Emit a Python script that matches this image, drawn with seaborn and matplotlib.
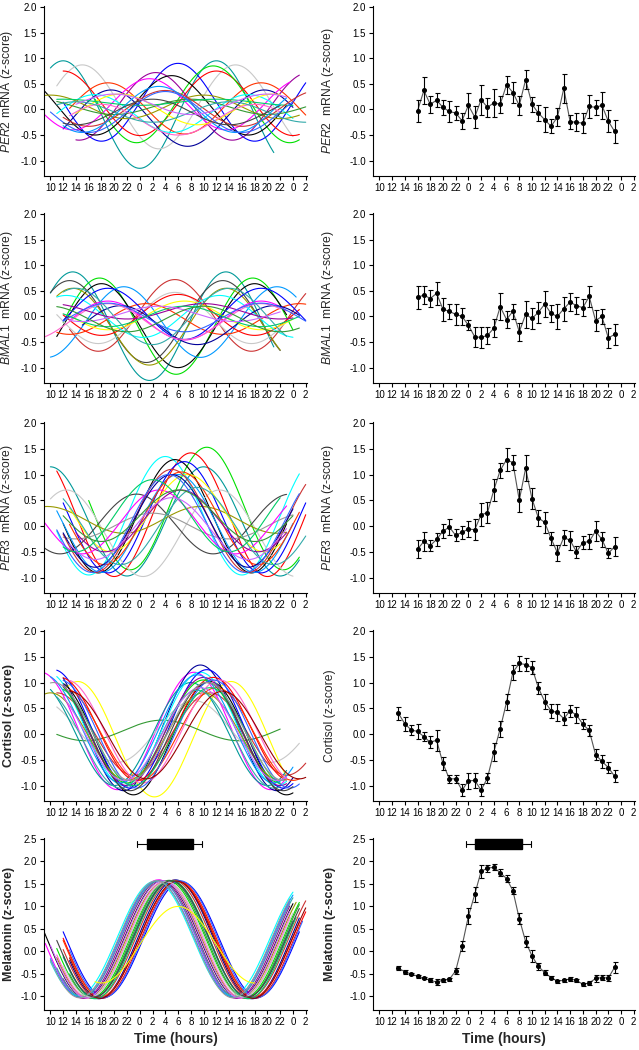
import numpy as np
import pandas as pd
import seaborn as sns
import matplotlib.pyplot as plt
from matplotlib.patches import Rectangle

# colours used for individual participant curves
C = {
	"red": "#FF0000", "blue": "#0000FF", "lime": "#00E000", "cyan": "#00FFFF",
	"magenta": "#FF00FF", "yellow": "#FFFF00", "black": "#000000", "gray": "#C8C8C8",
	"teal": "#009999", "navy": "#000099", "olive": "#999900", "purple": "#990099",
	"brick": "#CC3333", "darkgreen": "#339933", "green": "#00CC66", "sky": "#0099FF",
	"pink": "#FF66CC", "darkteal": "#33AAAA", "dodger": "#3366FF", "darkgray": "#444444",
	"violet": "#CC66FF", "orangered": "#FF3300", "maroon": "#990000", "silver": "#999999",
}

# x axis: continuous clock hours 10 (day 1) .. 2 (day 3)
HOUR_TICKS = list(range(10, 51, 2))
HOUR_LABELS = [str(h % 24) for h in HOUR_TICKS]

# ---- left column: individual cosinor fits (amplitude, peak clock hour, mesor, start, end)
PER2_COLOR = ["teal", "gray", "blue", "red", "lime", "navy", "orangered", "purple", "black", "magenta", "cyan",
	"yellow", "olive", "darkgreen", "green", "brick", "sky", "pink", "darkteal", "dodger", "darkgray", "violet"]
PER2_AMP = [1.05, 0.82, 0.76, 0.63, 0.75, 0.55, 0.50, 0.66, 0.58, 0.50, 0.37, 0.30, 0.23, 0.15, 0.06, 0.35, 0.45, 0.30, 0.20, 0.40, 0.25, 0.20]
PER2_PEAK = [12, 15, 6, 12, 11.5, 19.5, 19, 2.5, 5, 1.5, 17, 21, 10, 8, 12, 4, 3, 18, 14, 4, 2, 20]
PER2_MESOR = [-0.10, 0.05, 0.14, 0.12, 0.10, -0.17, 0.02, 0.06, 0.08, 0.10, -0.08, 0.0, 0.05, 0.05, 0.14, 0.02, 0.0, -0.20, -0.05, -0.05, -0.05, 0.10]
PER2_START = [10, 11, 12, 12, 17, 12, 13, 14, 9, 9, 11, 14, 9, 11, 11, 12, 12, 13, 11, 10, 12, 14]
PER2_END = [45, 48, 50, 49, 49, 48, 50, 49, 47, 47.5, 48, 46, 49, 50, 48, 50, 47, 46, 50, 48, 46, 47]

BMAL1_COLOR = ["teal", "lime", "black", "darkgray", "brick", "sky", "olive", "gray", "red", "orangered", "yellow",
	"cyan", "magenta", "blue", "navy", "pink", "purple", "green", "dodger", "darkteal", "violet", "darkgreen"]
BMAL1_AMP = [1.06, 0.94, 0.82, 0.80, 0.70, 0.69, 0.75, 0.50, 0.40, 0.30, 0.28, 0.41, 0.38, 0.50, 0.38, 0.35, 0.15, 0.20, 0.28, 0.55, 0.15, 0.25]
BMAL1_PEAK = [13.5, 17.7, 18, 13, 5.5, 21.5, 13.5, 5.5, 6, 1, 7, 12.5, 19, 19, 21, 19, 10, 7, 19, 14, 3, 10]
BMAL1_MESOR = [-0.19, -0.19, -0.18, -0.10, 0.02, -0.11, -0.20, -0.03, 0.03, -0.05, 0.02, 0.0, -0.08, 0.05, -0.17, -0.10, 0.10, 0.0, -0.02, 0.0, 0.05, -0.05]
BMAL1_START = [10, 12, 11, 10, 13, 10, 11, 11, 12, 11, 13, 11, 13, 12, 15, 9, 12, 12, 12, 12, 13, 11]
BMAL1_END = [45, 48, 47, 46, 50, 48.5, 46, 48, 49, 50, 48, 48, 47, 50, 49, 46, 48, 49, 50, 47, 46, 49]

PER3_COLOR = ["lime", "teal", "red", "cyan", "black", "blue", "gray", "darkgray", "olive", "silver", "magenta",
	"yellow", "sky", "brick", "orangered", "purple", "navy", "darkteal", "dodger", "green", "darkgreen", "violet"]
PER3_AMP = [1.19, 1.06, 1.20, 1.15, 1.10, 1.08, 0.84, 0.58, 0.26, 0.25, 0.62, 0.75, 0.95, 1.00, 0.90, 0.60, 0.90, 0.75, 0.95, 0.70, 0.50, 0.60]
PER3_PEAK = [10.5, 10, 8, 4, 5.5, 7, 12.5, 23.5, 9.5, 2, 3, 7.5, 6, 5, 6.5, 6.5, 5, 9, 4.5, 2, 6, 5]
PER3_MESOR = [0.34, 0.09, 0.22, 0.20, 0.19, 0.17, -0.14, 0.04, 0.12, 0.0, 0.08, 0.25, 0.05, 0.10, 0.15, 0.10, 0.10, 0.0, 0.05, 0.20, 0.20, -0.05]
PER3_START = [16, 10, 11, 11, 12, 12, 10, 9, 9, 12, 9, 13, 11, 12, 13, 14, 12, 12, 11, 12, 12, 13]
PER3_END = [49, 49, 50, 49, 47, 50, 48, 47, 47, 48, 47, 46, 48, 50, 49, 47, 48, 50, 49, 46, 48, 47]

CORT_COLOR = ["magenta", "navy", "yellow", "darkgreen", "gray", "brick", "black", "teal", "cyan", "blue", "red", "lime",
	"olive", "orangered", "purple", "sky", "pink", "dodger", "darkteal", "darkgray", "green", "violet", "maroon", "silver"]
CORT_AMP = [1.14, 1.22, 1.12, 0.20, 0.60, 0.80, 1.10, 1.00, 1.10, 1.15, 1.00, 1.00, 0.85, 0.90, 1.05, 1.05, 1.00, 1.05, 0.95, 1.05, 0.95, 0.90, 0.85, 0.95]
CORT_PEAK = [8.5, 9.5, 14.3, 3.5, 8.5, 11, 11, 8, 9.5, 10.5, 11.5, 10, 10, 12, 10, 9, 12.5, 11.5, 9, 10.5, 11, 9.5, 13, 10.5]
CORT_MESOR = [0.06, 0.12, -0.10, 0.07, 0.05, 0.0, -0.08, 0.0, 0.10, 0.10, 0.10, 0.05, -0.05, 0.0, 0.05, 0.10, 0.05, 0.0, -0.10, -0.05, -0.05, 0.0, -0.02, 0.05]
CORT_START = [9, 12, 12, 11, 11, 11, 12, 10, 11, 11, 12, 12, 9, 13, 12, 10, 13, 12, 11, 12, 12, 12, 13, 10]
CORT_END = [47, 48, 47, 46, 49, 50, 48, 47, 47, 48, 47, 46, 47, 49, 47, 48, 47, 49, 46, 48, 46, 47, 50, 47]

MEL_COLOR = ["black", "magenta", "blue", "red", "teal", "purple", "cyan", "lime", "olive", "navy", "brick", "sky",
	"pink", "darkgreen", "orangered", "dodger", "darkteal", "green", "violet", "maroon", "gray", "darkgray", "silver", "yellow"]
MEL_AMP = [1.30, 1.31, 1.28, 1.30, 1.29, 1.31, 1.27, 1.30, 1.28, 1.32, 1.30, 1.29, 1.30, 1.31, 1.28, 1.30, 1.29, 1.31, 1.30, 1.30, 1.28, 1.29, 1.30, 0.85]
MEL_PEAK = [3.5, 2.9, 6.5, 6.1, 4.8, 3.2, 2.4, 4.4, 3.8, 5.6, 5.3, 2.7, 4.0, 4.6, 5.9, 6.3, 3.0, 5.0, 3.6, 5.8, 4.2, 4.9, 2.6, 6.0]
MEL_MESOR = [0.27, 0.28, 0.27, 0.26, 0.28, 0.27, 0.29, 0.27, 0.26, 0.27, 0.28, 0.27, 0.26, 0.27, 0.28, 0.27, 0.28, 0.26, 0.27, 0.26, 0.27, 0.28, 0.27, 0.15]
MEL_START = [9, 9.2, 12, 12, 12, 12, 10, 11, 11, 13, 12, 10, 11, 13, 12, 13, 11, 12, 10, 13, 12, 11, 10, 17]
MEL_END = [48, 47.5, 49, 50, 48, 47.5, 48, 49, 48.5, 49, 50, 48, 47.5, 49, 49, 49.5, 48, 48.5, 47.5, 50, 48, 49, 47.5, 42]

# ---- right column: group mean +/- SE
GENE_HOURS = list(range(16, 48))
HORM_HOURS = list(range(13, 48))

PER2_MEAN = [-0.03, 0.37, 0.10, 0.18, 0.04, -0.04, -0.07, -0.22, 0.08, -0.15, 0.19, 0.04, 0.13, 0.10, 0.48, 0.33,
	0.08, 0.58, 0.10, -0.07, -0.20, -0.33, -0.15, 0.41, -0.24, -0.25, -0.27, 0.06, 0.04, 0.08, -0.23, -0.43]
PER2_SE = [0.22, 0.26, 0.17, 0.14, 0.15, 0.20, 0.14, 0.16, 0.24, 0.22, 0.29, 0.19, 0.27, 0.17, 0.17, 0.20,
	0.18, 0.19, 0.15, 0.15, 0.24, 0.14, 0.17, 0.28, 0.14, 0.18, 0.20, 0.22, 0.15, 0.27, 0.21, 0.22]

BMAL1_MEAN = [0.37, 0.42, 0.35, 0.45, 0.14, 0.10, 0.04, 0.00, -0.17, -0.40, -0.41, -0.37, -0.23, 0.19, -0.06, 0.10,
	-0.30, 0.04, -0.04, 0.08, 0.24, 0.06, 0.00, 0.15, 0.28, 0.21, 0.17, 0.39, -0.08, 0.00, -0.42, -0.35]
BMAL1_SE = [0.22, 0.17, 0.16, 0.22, 0.22, 0.15, 0.20, 0.17, 0.10, 0.20, 0.20, 0.17, 0.18, 0.26, 0.16, 0.15,
	0.18, 0.27, 0.20, 0.20, 0.25, 0.16, 0.25, 0.23, 0.17, 0.17, 0.17, 0.20, 0.20, 0.14, 0.20, 0.20]

PER3_MEAN = [-0.45, -0.30, -0.38, -0.26, -0.10, -0.02, -0.18, -0.12, -0.06, -0.07, 0.22, 0.26, 0.70, 1.08, 1.29, 1.23,
	0.50, 1.12, 0.53, 0.16, 0.07, -0.24, -0.52, -0.22, -0.28, -0.50, -0.32, -0.30, -0.10, -0.26, -0.53, -0.40]
PER3_SE = [0.17, 0.18, 0.10, 0.12, 0.14, 0.15, 0.12, 0.13, 0.15, 0.20, 0.22, 0.20, 0.22, 0.15, 0.22, 0.15,
	0.22, 0.25, 0.20, 0.15, 0.20, 0.12, 0.15, 0.14, 0.18, 0.12, 0.12, 0.15, 0.20, 0.14, 0.10, 0.18]

CORT_MEAN = [0.40, 0.20, 0.08, 0.05, -0.05, -0.16, -0.12, -0.57, -0.87, -0.87, -1.09, -0.91, -0.90, -1.09, -0.85, -0.35,
	0.10, 0.62, 1.20, 1.37, 1.35, 1.29, 0.90, 0.63, 0.45, 0.42, 0.30, 0.45, 0.37, 0.19, 0.07, -0.40, -0.53, -0.65, -0.82]
CORT_SE = [0.13, 0.14, 0.10, 0.14, 0.08, 0.12, 0.20, 0.12, 0.08, 0.08, 0.12, 0.15, 0.15, 0.12, 0.10, 0.18,
	0.15, 0.15, 0.15, 0.15, 0.12, 0.12, 0.12, 0.15, 0.13, 0.16, 0.12, 0.12, 0.15, 0.10, 0.11, 0.10, 0.12, 0.10, 0.12]

MEL_MEAN = [-0.37, -0.45, -0.50, -0.55, -0.59, -0.64, -0.68, -0.64, -0.62, -0.43, 0.12, 0.78, 1.27, 1.78, 1.85, 1.87,
	1.75, 1.62, 1.35, 0.73, 0.22, -0.10, -0.33, -0.47, -0.58, -0.66, -0.64, -0.61, -0.64, -0.73, -0.70, -0.60, -0.58, -0.59, -0.35]
MEL_SE = [0.04, 0.04, 0.03, 0.03, 0.03, 0.04, 0.06, 0.03, 0.04, 0.07, 0.12, 0.18, 0.17, 0.15, 0.08, 0.07,
	0.08, 0.07, 0.08, 0.12, 0.12, 0.13, 0.08, 0.05, 0.04, 0.03, 0.03, 0.04, 0.03, 0.04, 0.04, 0.07, 0.05, 0.07, 0.12]

# sleep episode (black bar) and its range (whiskers), clock hours on the continuous axis
SLEEP_BAR = [25.1, 32.4]
SLEEP_RANGE = [23.6, 33.8]

sns.set_style("ticks")
plt.rcParams["font.family"] = ["Liberation Sans", "DejaVu Sans"]
plt.rcParams["mathtext.fontset"] = "custom"
plt.rcParams["mathtext.rm"] = "Liberation Sans"
plt.rcParams["mathtext.it"] = "Liberation Sans:italic"
plt.rcParams["mathtext.bf"] = "Liberation Sans:bold"


def curves_frame(amp, peak, mesor, start, end):
	rows = []
	for i in range(len(amp)):
		t = np.arange(start[i], end[i] + 0.01, 0.1)
		v = mesor[i] + amp[i] * np.cos(2 * np.pi * (t - peak[i]) / 24.0)
		rows.append(pd.DataFrame({"hour": t, "value": v, "pid": i}))
	return pd.concat(rows, ignore_index=True)


def style_axis(ax, ymax, label, weight, xlabel=False):
	ax.set_xlim(9, 50.2)
	ax.set_ylim(-1.3, ymax)
	ax.set_xticks(HOUR_TICKS)
	ax.set_xticklabels(HOUR_LABELS)
	yt = np.arange(-1.0, ymax + 0.01, 0.5)
	ax.set_yticks(yt)
	ax.set_yticklabels(["%.1f" % v for v in yt])
	ax.tick_params(axis="both", direction="out", length=3, width=0.8, labelsize=7, pad=2, colors="black")
	for s in ["top", "right"]:
		ax.spines[s].set_visible(False)
	for s in ["left", "bottom"]:
		ax.spines[s].set_linewidth(0.8)
		ax.spines[s].set_color("black")
	size = 9 if weight == "bold" else 8.7
	ax.set_ylabel(label, fontsize=size, fontweight=weight)
	ax.set_xlabel("")
	if xlabel:
		ax.set_xlabel("Time (hours)", fontsize=10, fontweight="bold", labelpad=4)


def sleep_bar(ax):
	mid = 2.385
	ax.add_patch(Rectangle((SLEEP_BAR[0], 2.27), SLEEP_BAR[1] - SLEEP_BAR[0], 0.23,
		facecolor="black", edgecolor="black", clip_on=False))
	ax.plot([SLEEP_RANGE[0], SLEEP_BAR[0]], [mid, mid], color="black", lw=0.8, clip_on=False)
	ax.plot([SLEEP_BAR[1], SLEEP_RANGE[1]], [mid, mid], color="black", lw=0.8, clip_on=False)
	for x in SLEEP_RANGE:
		ax.plot([x, x], [mid - 0.07, mid + 0.07], color="black", lw=0.8, clip_on=False)


panels = [
	(PER2_COLOR, PER2_AMP, PER2_PEAK, PER2_MESOR, PER2_START, PER2_END, GENE_HOURS, PER2_MEAN, PER2_SE,
		r"$\mathit{PER2}$ mRNA (z-score)", r"$\mathit{PER2}$  mRNA (z-score)", "normal", "normal", 2.02),
	(BMAL1_COLOR, BMAL1_AMP, BMAL1_PEAK, BMAL1_MESOR, BMAL1_START, BMAL1_END, GENE_HOURS, BMAL1_MEAN, BMAL1_SE,
		r"$\mathit{BMAL1}$  mRNA (z-score)", r"$\mathit{BMAL1}$  mRNA (z-score)", "normal", "normal", 2.02),
	(PER3_COLOR, PER3_AMP, PER3_PEAK, PER3_MESOR, PER3_START, PER3_END, GENE_HOURS, PER3_MEAN, PER3_SE,
		r"$\mathit{PER3}$  mRNA (z-score)", r"$\mathit{PER3}$  mRNA (z-score)", "normal", "normal", 2.02),
	(CORT_COLOR, CORT_AMP, CORT_PEAK, CORT_MESOR, CORT_START, CORT_END, HORM_HOURS, CORT_MEAN, CORT_SE,
		"Cortisol (z-score)", "Cortisol (z-score)", "bold", "normal", 2.02),
	(MEL_COLOR, MEL_AMP, MEL_PEAK, MEL_MESOR, MEL_START, MEL_END, HORM_HOURS, MEL_MEAN, MEL_SE,
		"Melatonin (z-score)", "Melatonin (z-score)", "bold", "bold", 2.52),
]

fig = plt.figure(figsize=(6.39, 10.5), dpi=100)
tops = [6, 213, 422, 630, 838]
bottoms = [176, 383, 593, 801, 1010]

for r, p in enumerate(panels):
	colors, amp, peak, mesor, start, end, hours, mean, se, llab, rlab, lw_left, lw_right, ymax = p
	b = 1 - bottoms[r] / 1050.0
	h = (bottoms[r] - tops[r]) / 1050.0
	axl = fig.add_axes([44 / 639.0, b, 263 / 639.0, h])
	axr = fig.add_axes([373 / 639.0, b, 262 / 639.0, h])

	df = curves_frame(amp, peak, mesor, start, end)
	sns.lineplot(data=df, x="hour", y="value", hue="pid", hue_order=list(range(len(amp))),
		palette=[C[c] for c in colors], estimator=None, sort=False, legend=False,
		linewidth=0.8, ax=axl)

	sns.lineplot(x=hours, y=mean, color="#555555", linewidth=0.8, ax=axr)
	axr.errorbar(hours, mean, yerr=se, fmt="o", ms=2.6, color="black", ecolor="black",
		elinewidth=0.8, capsize=1.8, capthick=0.8)

	last = r == len(panels) - 1
	style_axis(axl, ymax, llab, lw_left, xlabel=last)
	style_axis(axr, ymax, rlab, lw_right, xlabel=last)
	# y label anchor is the right edge of the rotated text
	axl.yaxis.set_label_coords(-0.112, 0.5)
	axr.yaxis.set_label_coords(-0.14, 0.5)
	if last:
		sleep_bar(axl)
		sleep_bar(axr)

fig.savefig("out.png", dpi=100)
